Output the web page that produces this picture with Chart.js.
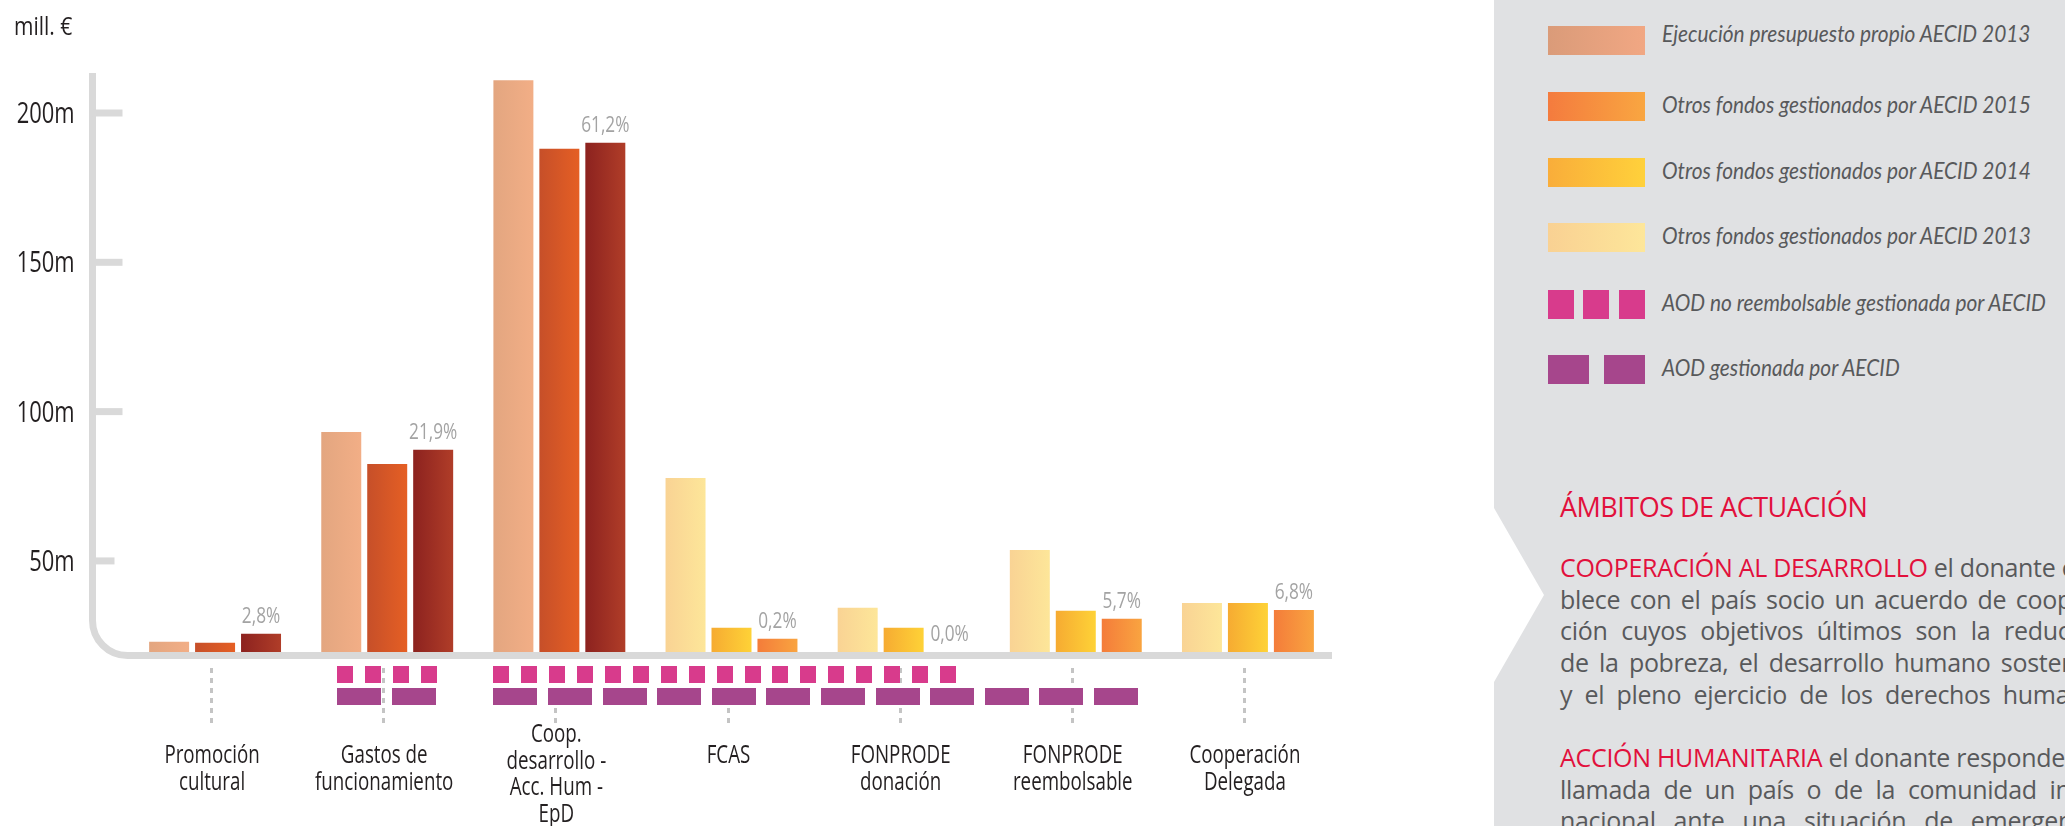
<!DOCTYPE html>
<html>
<head>
<meta charset="utf-8">
<script src="https://cdn.jsdelivr.net/npm/chart.js@4.4.1/dist/chart.umd.min.js"></script>
<style>
  html, body { margin:0; padding:0; width:2065px; height:826px; overflow:hidden; background:#fff; }
  #wrap { position:relative; width:2065px; height:826px; }
  canvas { position:absolute; left:0; top:0; }
  #panel { position:absolute; left:1494px; top:0; width:571px; height:826px; background:#e0e1e3; overflow:hidden;
    clip-path: polygon(0 0, 100% 0, 100% 100%, 0 100%, 0 682px, 50px 595px, 0 508px); }
  .lg { position:absolute; left:0; height:29px; width:571px; }
  .sw { position:absolute; left:54px; top:0; height:29px; }
  .lt { position:absolute; left:168px; top:-3px; font-family: Lato, 'Open Sans', sans-serif; font-style:italic; font-size:24px; color:#58595b; white-space:nowrap; transform-origin:left center; transform:scaleX(0.87); line-height:29px; }
  .txt { position:absolute; left:66px; font-family:'Open Sans','Noto Sans',sans-serif; color:#58595b; white-space:nowrap; }
  .red { color:#e2103c; }
  .ln { display:block; font-size:25px; line-height:31.7px; height:31.7px; letter-spacing:-0.3px; }
  .ln.j { text-align:justify; text-align-last:justify; }
  .meas { display:inline-block; }
</style>
</head>
<body>
<div id="wrap">
  <canvas id="c" width="2065" height="826"></canvas>
  <div id="panel"></div>
</div>
<script>
// ---------------- DATA ----------------
const categories = [
  ['Promoción', 'cultural'],
  ['Gastos de', 'funcionamiento'],
  ['Coop.', 'desarrollo -', 'Acc. Hum -', 'EpD'],
  ['FCAS'],
  ['FONPRODE', 'donación'],
  ['FONPRODE', 'reembolsable'],
  ['Cooperación', 'Delegada']
];
const fundType = ['propio', 'propio', 'propio', 'otros', 'otros', 'otros', 'otros'];
const serie1 = [22.9, 93.2, 211.0, 77.8, 34.3, 53.7, 35.9];
const serie2 = [22.6, 82.5, 188.0, 27.6, 27.6, 33.3, 35.9];
const serie3 = [25.6, 87.2, 190.0, 23.9, 19.5, 30.6, 33.6];
const pctLabels = ['2,8%', '21,9%', '61,2%', '0,2%', '0,0%', '5,7%', '6,8%'];
// category index ranges covered by each AOD band (first, last)
const aodNoReembBlocks = [[1, 1], [2, 4]];
const aodGestBlocks = [[1, 1], [2, 5]];
const yTicks = [50, 100, 150, 200];
const yMin = 19.5, yMax = 213.4;
const unitLabel = 'mill. €';
const legendItems = [
  'Ejecución presupuesto propio AECID 2013',
  'Otros fondos gestionados por AECID 2015',
  'Otros fondos gestionados por AECID 2014',
  'Otros fondos gestionados por AECID 2013',
  'AOD no reembolsable gestionada por AECID',
  'AOD gestionada por AECID'
];
const heading = 'ÁMBITOS DE ACTUACIÓN';
const para1Lead = 'COOPERACIÓN AL DESARROLLO';
const para1 = [' el donante esta-', 'blece con el país socio un acuerdo de coopera-', 'ción cuyos objetivos últimos son la reducción', 'de la pobreza, el desarrollo humano sostenible', 'y el pleno ejercicio de los derechos humanos.'];
const para2Lead = 'ACCIÓN HUMANITARIA';
const para2 = [' el donante responde a la', 'llamada de un país o de la comunidad inter-', 'nacional ante una situación de emergencia.'];

// ---------------- STYLE ----------------
const palette = {
  propio: [['#e3a680', '#f2ae86'], ['#c64f29', '#e55f24'], ['#8c221f', '#b03d28']],
  otros:  [['#f9d394', '#fde699'], ['#f6ab32', '#fed237'], ['#f47c3a', '#f9a440']]
};
const legendFills = [
  'linear-gradient(90deg,#da9b79,#f1a783)',
  'linear-gradient(90deg,#f47b3e,#f9a641)',
  'linear-gradient(90deg,#f9ad3a,#ffd13b)',
  'linear-gradient(90deg,#f9d193,#fde69a)'
];
const MAGENTA = '#d83b8c', PURPLE = '#a6468c';
const FONT = "'Open Sans','Noto Sans',sans-serif";
const CAT_PCT = 0.801, BAR_PCT = 0.87;

function condensed(ctx, text, x, y, size, color, align, sx) {
  ctx.save();
  ctx.font = size + 'px ' + FONT;
  ctx.fillStyle = color;
  ctx.textAlign = align;
  ctx.textBaseline = 'alphabetic';
  ctx.translate(x, y);
  ctx.scale(sx, 1);
  ctx.fillText(text, 0, 0);
  ctx.restore();
}

function barFill(context) {
  const chart = context.chart;
  const ds = context.datasetIndex, i = context.dataIndex;
  const cols = palette[fundType[i]][ds];
  const xs = chart.scales.x;
  if (!xs || !chart.chartArea) return cols[1];
  const catW = xs.width / categories.length;
  const slot = catW * CAT_PCT / 3;
  const bw = slot * BAR_PCT;
  const cx = xs.getPixelForValue(i);
  const left = cx - 1.5 * slot + ds * slot + (slot - bw) / 2;
  const g = chart.ctx.createLinearGradient(left, 0, left + bw, 0);
  g.addColorStop(0, cols[0]);
  g.addColorStop(1, cols[1]);
  return g;
}

const decoPlugin = {
  id: 'deco',
  beforeDatasetsDraw(chart) {
    const { ctx, chartArea: a, scales: { y } } = chart;
    const ax = a.left - 36.5, by = a.bottom + 3.5, r = 35;
    ctx.save();
    ctx.strokeStyle = '#d9d9d9';
    ctx.lineWidth = 7;
    ctx.beginPath();
    ctx.moveTo(ax, a.top);
    ctx.lineTo(ax, by - r);
    ctx.arcTo(ax, by, ax + r, by, r);
    ctx.lineTo(a.right - 2, by);
    ctx.stroke();
    yTicks.forEach(v => {
      const py = y.getPixelForValue(v);
      ctx.beginPath();
      ctx.moveTo(ax, py);
      ctx.lineTo(ax + (v === yTicks[0] ? 22 : 30), py);
      ctx.stroke();
      condensed(ctx, v + 'm', ax - 18, py + 10, 30, '#231f20', 'right', 0.73);
    });
    ctx.restore();
  },
  afterDraw(chart) {
    const { ctx, chartArea: a, scales: { x } } = chart;
    const m0 = chart.getDatasetMeta(0), m2 = chart.getDatasetMeta(2);
    ctx.save();
    condensed(ctx, unitLabel, 14, 35, 25, '#231f20', 'left', 0.84);
    // dotted guide lines
    ctx.strokeStyle = '#c4c4c4';
    ctx.lineWidth = 3;
    ctx.setLineDash([5, 5]);
    categories.forEach((c, i) => {
      const cx = Math.round(x.getPixelForValue(i)) - 3.5;
      ctx.beginPath();
      ctx.moveTo(cx, a.bottom + 16);
      ctx.lineTo(cx, a.bottom + 76);
      ctx.stroke();
    });
    ctx.setLineDash([]);
    // AOD bands
    function band(blocks, color, w, pitch, top, h) {
      ctx.fillStyle = color;
      blocks.forEach(([s, e]) => {
        const e0 = m0.data[s], e2 = m2.data[e];
        let L = e0.x - e0.width / 2, R = e2.x + e2.width / 2;
        if (s === e) { L += 16; R -= 16; }
        const gap = pitch - w;
        const n = Math.floor((R - L + gap) / pitch);
        for (let k = 0; k < n; k++) ctx.fillRect(Math.round(L + k * pitch), top, w, h);
      });
    }
    band(aodNoReembBlocks, MAGENTA, 16, 27.9, a.bottom + 14, 17);
    band(aodGestBlocks, PURPLE, 44, 54.6, a.bottom + 36, 17);
    // category labels
    categories.forEach((lines, i) => {
      const cx = x.getPixelForValue(i) - 3;
      const lh = 26.5;
      let yy = a.bottom + 111 - (lines.length > 2 ? 21 : 0);
      lines.forEach(t => { condensed(ctx, t, cx, yy, 25, '#231f20', 'center', 0.75); yy += lh; });
    });
    // percentage labels
    pctLabels.forEach((t, i) => {
      const el = m2.data[i];
      condensed(ctx, t, el.x, el.y - 11, 21, '#a3a3a3', 'center', 0.82);
    });
    ctx.restore();
  }
};

new Chart(document.getElementById('c'), {
  type: 'bar',
  data: {
    labels: categories,
    datasets: [
      { label: legendItems[0], data: serie1, backgroundColor: barFill },
      { label: legendItems[1], data: serie2, backgroundColor: barFill },
      { label: legendItems[2], data: serie3, backgroundColor: barFill }
    ]
  },
  options: {
    responsive: false,
    devicePixelRatio: 1,
    animation: false,
    events: [],
    layout: { padding: { left: 0, top: 73, right: 731, bottom: 174 } },
    datasets: { bar: { categoryPercentage: CAT_PCT, barPercentage: BAR_PCT, borderWidth: 0 } },
    plugins: { legend: { display: false }, tooltip: { enabled: false } },
    scales: {
      x: { display: false, offset: true, grid: { display: false } },
      y: {
        min: yMin, max: yMax,
        grid: { display: false, drawTicks: false },
        border: { display: false },
        afterBuildTicks: s => { s.ticks = yTicks.map(v => ({ value: v })); },
        afterFit: s => { s.width = 129; },
        ticks: { display: false }
      }
    }
  },
  plugins: [decoPlugin]
});

// ---------------- PANEL ----------------
const panel = document.getElementById('panel');
const rowTops = [26, 92, 158, 223, 290, 355];
legendItems.forEach((t, i) => {
  const row = document.createElement('div');
  row.className = 'lg';
  row.style.top = rowTops[i] + 'px';
  if (i < 4) {
    const sw = document.createElement('div');
    sw.className = 'sw';
    sw.style.width = '97px';
    sw.style.background = legendFills[i];
    row.appendChild(sw);
  } else if (i === 4) {
    [0, 35, 71].forEach(dx => {
      const sw = document.createElement('div');
      sw.className = 'sw';
      sw.style.left = (54 + dx) + 'px';
      sw.style.width = '26px';
      sw.style.background = MAGENTA;
      row.appendChild(sw);
    });
  } else {
    [0, 56].forEach(dx => {
      const sw = document.createElement('div');
      sw.className = 'sw';
      sw.style.left = (54 + dx) + 'px';
      sw.style.width = '41px';
      sw.style.background = PURPLE;
      row.appendChild(sw);
    });
  }
  const lt = document.createElement('div');
  lt.className = 'lt';
  if (i === 0) lt.style.top = '-8px';
  lt.textContent = t;
  row.appendChild(lt);
  panel.appendChild(row);
});

const h = document.createElement('div');
h.className = 'txt red';
h.style.top = '488px';
h.style.fontSize = '27px';
h.style.letterSpacing = '-0.5px';
h.textContent = heading;
panel.appendChild(h);

function para(lead, lines, top) {
  const d = document.createElement('div');
  d.className = 'txt';
  d.style.top = top + 'px';
  const spans = [];
  lines.forEach((t, k) => {
    const ln = document.createElement('span');
    ln.className = 'ln meas';
    if (k === 0) {
      const r = document.createElement('span');
      r.className = 'red';
      r.textContent = lead;
      ln.appendChild(r);
    }
    ln.appendChild(document.createTextNode(t));
    d.appendChild(ln);
    d.appendChild(document.createElement('br'));
    spans.push(ln);
  });
  panel.appendChild(d);
  const W = Math.max(...spans.map(s => s.getBoundingClientRect().width));
  spans.forEach(s => {
    s.classList.remove('meas');
    s.style.display = 'block';
    s.style.width = W + 'px';
    s.classList.add('j');
  });
  d.querySelectorAll('br').forEach(b => b.remove());
}
para(para1Lead, para1, 552);
para(para2Lead, para2, 742);
</script>
</body>
</html>
